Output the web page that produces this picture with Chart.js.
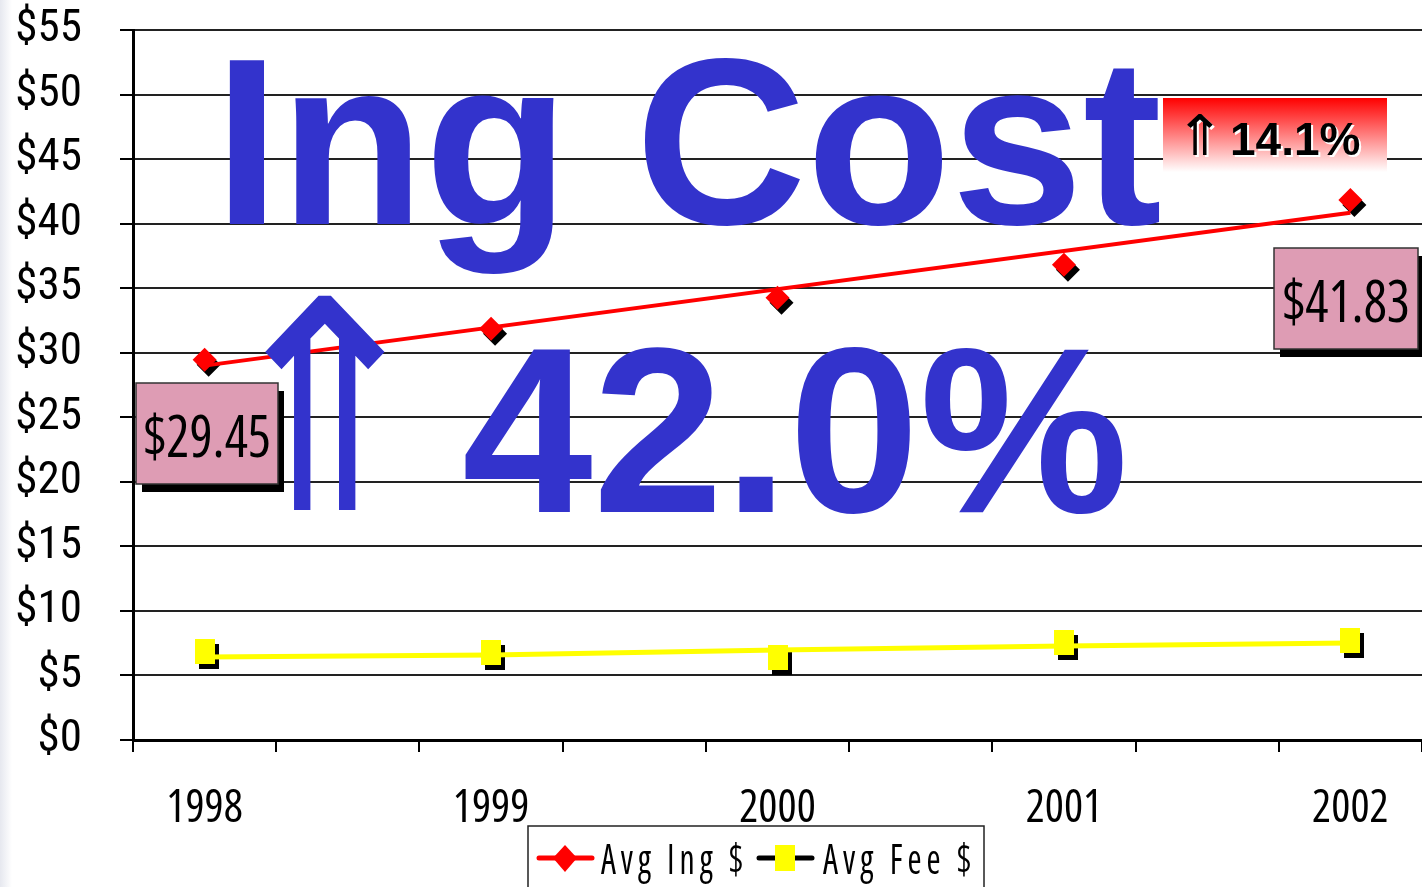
<!DOCTYPE html>
<html>
<head>
<meta charset="utf-8">
<title>Ing Cost</title>
<script src="https://cdn.jsdelivr.net/npm/chart.js@4.4.0/dist/chart.umd.min.js"></script>
<style>
  html, body { margin: 0; padding: 0; background: #fff; }
  #wrap { position: relative; width: 1422px; height: 887px; }
</style>
</head>
<body>
<div id="wrap"><canvas id="costChart" width="1422" height="887"></canvas></div>
<script>
// --- data ---
const years = [1998, 1999, 2000, 2001, 2002];
const avgIng = [29.45, 31.86, 34.26, 36.82, 41.83];
const avgFee = [6.82, 6.74, 6.36, 7.52, 7.67];
const ingTrendYears = [1998, 2002];
const ingTrend = [29.0, 40.85];
const feeTrend = [6.43, 6.59, 6.98, 7.29, 7.52];
const yTicks = [0, 5, 10, 15, 20, 25, 30, 35, 40, 45, 50, 55];
const seriesLabels = ['Avg Ing $', 'Avg Fee $'];
const headline = 'Ing Cost';
const totalChange = '42.0%';
const lastYearChange = '14.1%';
const upArrow = '\u21D1';

const NARROW = '"Open Sans", "DejaVu Sans Condensed", sans-serif';
const Y_FONT = '"Roboto Condensed", "DejaVu Sans Condensed", sans-serif';
const BOLD = '"Liberation Sans", Arial, sans-serif';
const RED = '#ff0000';
const YELLOW = '#ffff00';
const BLUE = '#3333cc';
const PINK = '#de9cb4';

// x range runs a quarter year past the first and last year
const xMin = 1997.75;
const xMax = 2002.25;

// yellow marker is a bit taller than wide
function makeRectMarker(w, h, color) {
  const c = document.createElement('canvas');
  c.width = w;
  c.height = h;
  const g = c.getContext('2d');
  g.fillStyle = color;
  g.fillRect(0, 0, w, h);
  return c;
}
const feeMarker = makeRectMarker(20, 25, YELLOW);

const toPoints = (xs, ys) => xs.map((x, i) => ({ x: x, y: ys[i] }));

// faint shade down the left edge of the slide
const slideEdge = {
  id: 'slideEdge',
  beforeDraw(chart) {
    const ctx = chart.ctx;
    const grad = ctx.createLinearGradient(0, 0, 12, 0);
    grad.addColorStop(0, '#e6e8ef');
    grad.addColorStop(1, '#ffffff');
    ctx.save();
    ctx.fillStyle = grad;
    ctx.fillRect(0, 0, 12, chart.height);
    ctx.restore();
  },
};

// black drop shadow under the markers
const markerShadow = {
  id: 'markerShadow',
  beforeDatasetDraw(chart, args) {
    if (!args.meta._dataset.shadow) return;
    const ctx = chart.ctx;
    ctx.save();
    ctx.shadowColor = '#000';
    ctx.shadowOffsetX = 4;
    ctx.shadowOffsetY = 5;
    ctx.shadowBlur = 0;
  },
  afterDatasetDraw(chart, args) {
    if (!args.meta._dataset.shadow) return;
    chart.ctx.restore();
  },
};

// squeeze/stretch a glyph run into a box
function drawFitted(ctx, text, font, color, box) {
  ctx.save();
  ctx.font = font;
  const m = ctx.measureText(text);
  const w = m.actualBoundingBoxLeft + m.actualBoundingBoxRight;
  const h = m.actualBoundingBoxAscent + m.actualBoundingBoxDescent;
  ctx.translate(box.x, box.y);
  ctx.scale(box.w / w, box.h / h);
  ctx.fillStyle = color;
  ctx.textAlign = 'left';
  ctx.textBaseline = 'alphabetic';
  ctx.fillText(text, m.actualBoundingBoxLeft, m.actualBoundingBoxAscent);
  ctx.restore();
}

// squeeze a text run to a given width, keeping its height
function drawToWidth(ctx, text, font, x, baseline, width, spacing) {
  ctx.save();
  ctx.font = font;
  ctx.letterSpacing = spacing || '0px';
  ctx.textAlign = 'left';
  ctx.textBaseline = 'alphabetic';
  const m = ctx.measureText(text);
  const w = m.actualBoundingBoxLeft + m.actualBoundingBoxRight;
  ctx.translate(x, baseline);
  ctx.scale(width / w, 1);
  ctx.fillText(text, m.actualBoundingBoxLeft, 0);
  ctx.restore();
}

// the big slide texts, under the series
const headlines = {
  id: 'headlines',
  beforeDatasetsDraw(chart) {
    const ctx = chart.ctx;
    ctx.save();
    ctx.fillStyle = BLUE;
    ctx.textAlign = 'left';
    ctx.textBaseline = 'alphabetic';
    ctx.font = 'bold 237px ' + BOLD;
    ctx.fillText(headline, 214, 224);
    ctx.font = 'bold 235px ' + BOLD;
    ctx.fillText(totalChange, 462, 512);

    // red fading box for last year change
    const grad = ctx.createLinearGradient(0, 98, 0, 172);
    grad.addColorStop(0, RED);
    grad.addColorStop(1, '#ffffff');
    ctx.fillStyle = grad;
    ctx.fillRect(1163, 98, 224, 74);
    ctx.font = 'bold 46px ' + BOLD;
    ctx.fillStyle = '#fff';
    ctx.fillText(lastYearChange, 1232, 157);
    ctx.fillStyle = '#000';
    ctx.fillText(lastYearChange, 1230, 155);
    drawFitted(ctx, upArrow, '60px "DejaVu Sans"', '#fff', { x: 1189, y: 116, w: 26, h: 41 });
    drawFitted(ctx, upArrow, '60px "DejaVu Sans"', '#000', { x: 1187, y: 114, w: 26, h: 41 });
    ctx.restore();
  },
};

function valueBox(ctx, text, x, y, w, h) {
  ctx.fillStyle = '#000';
  ctx.fillRect(x + 6, y + 8, w, h);
  ctx.fillStyle = PINK;
  ctx.fillRect(x, y, w, h);
  ctx.strokeStyle = '#333';
  ctx.lineWidth = 1.5;
  ctx.strokeRect(x, y, w, h);
  ctx.fillStyle = '#000';
  const tw = 124;
  drawToWidth(ctx, text, 'normal ultra-condensed 59px ' + NARROW, x + (w - tw) / 2, y + 74, tw);
}

const extras = {
  id: 'extras',
  afterDatasetsDraw(chart) {
    // arrow sits over the trend line
    drawFitted(chart.ctx, upArrow, '200px "DejaVu Sans"', BLUE, { x: 265, y: 295, w: 120, h: 215 });
  },
  afterDraw(chart) {
    const ctx = chart.ctx;
    ctx.save();
    valueBox(ctx, '$' + avgIng[0].toFixed(2), 136, 383, 142, 101);
    valueBox(ctx, '$' + avgIng[avgIng.length - 1].toFixed(2), 1274, 248, 144, 101);

    // legend
    ctx.fillStyle = '#fff';
    ctx.fillRect(528, 826, 456, 70);
    ctx.strokeStyle = '#222';
    ctx.lineWidth = 1.5;
    ctx.strokeRect(528, 826, 456, 70);

    ctx.lineWidth = 5;
    ctx.lineCap = 'round';
    ctx.strokeStyle = RED;
    ctx.beginPath();
    ctx.moveTo(539, 858);
    ctx.lineTo(592, 858);
    ctx.stroke();
    ctx.fillStyle = RED;
    ctx.beginPath();
    ctx.moveTo(565, 845);
    ctx.lineTo(577, 858);
    ctx.lineTo(565, 872);
    ctx.lineTo(553, 858);
    ctx.closePath();
    ctx.fill();

    ctx.strokeStyle = '#000';
    ctx.beginPath();
    ctx.moveTo(759, 858);
    ctx.lineTo(812, 858);
    ctx.stroke();
    ctx.drawImage(feeMarker, 775, 845, 20, 26);

    ctx.fillStyle = '#000';
    const legendFont = 'normal ultra-condensed 41px ' + NARROW;
    drawToWidth(ctx, seriesLabels[0], legendFont, 601, 874, 141, '6px');
    drawToWidth(ctx, seriesLabels[1], legendFont, 823, 874, 147, '6px');
    ctx.restore();
  },
};

new Chart(document.getElementById('costChart'), {
  type: 'line',
  data: {
    datasets: [
      {
        label: seriesLabels[0] + ' trend',
        data: toPoints(ingTrendYears, ingTrend),
        borderColor: RED,
        borderWidth: 4,
        pointRadius: 0,
        clip: false,
      },
      {
        label: seriesLabels[1] + ' trend',
        data: toPoints(years, feeTrend),
        borderColor: YELLOW,
        borderWidth: 5,
        pointRadius: 0,
        clip: false,
      },
      {
        label: seriesLabels[0],
        data: toPoints(years, avgIng),
        showLine: false,
        pointStyle: 'rectRot',
        pointRadius: 12,
        pointBackgroundColor: RED,
        pointBorderWidth: 0,
        shadow: true,
        clip: false,
      },
      {
        label: seriesLabels[1],
        data: toPoints(years, avgFee),
        showLine: false,
        pointStyle: feeMarker,
        pointRadius: 12,
        shadow: true,
        clip: false,
      },
    ],
  },
  options: {
    responsive: false,
    animation: false,
    devicePixelRatio: 1,
    layout: { autoPadding: false, padding: { top: 30, right: 0, left: 0, bottom: 0 } },
    plugins: {
      legend: { display: false },
      tooltip: { enabled: false },
      title: { display: false },
    },
    scales: {
      x: {
        type: 'linear',
        min: xMin,
        max: xMax,
        afterBuildTicks: (axis) => {
          // tick marks every half year between the years, labels on the years
          const values = years.slice();
          for (let v = xMin; v <= xMax + 1e-9; v += 0.5) values.push(v);
          values.sort((a, b) => a - b);
          axis.ticks = values.map((v) => ({ value: v }));
        },
        afterFit: (axis) => {
          axis.height = 147;
          axis.paddingLeft = 0;
          axis.paddingRight = 0;
        },
        grid: {
          drawOnChartArea: false,
          tickLength: 12,
          lineWidth: 2,
          tickColor: (c) => (c.tick && years.includes(c.tick.value) ? 'rgba(0,0,0,0)' : '#000'),
        },
        border: { color: '#000', width: 3 },
        ticks: {
          autoSkip: false,
          maxRotation: 0,
          padding: 30,
          color: '#000',
          font: { family: NARROW, weight: 'normal ultra-condensed', size: 45 },
          callback: (v) => (years.includes(v) ? String(v) : ''),
        },
      },
      y: {
        min: 0,
        max: 55,
        afterBuildTicks: (axis) => {
          axis.ticks = yTicks.map((v) => ({ value: v }));
        },
        afterFit: (axis) => {
          axis.width = 133;
          axis.paddingTop = 0;
          axis.paddingBottom = 0;
        },
        grid: { color: '#222', lineWidth: 2, tickLength: 13, tickColor: '#000' },
        border: { color: '#000', width: 3 },
        ticks: {
          padding: 38,
          color: '#000',
          font: { family: Y_FONT, size: 45 },
          callback: (v) => '$' + v,
        },
      },
    },
  },
  plugins: [slideEdge, markerShadow, headlines, extras],
});
</script>
</body>
</html>
